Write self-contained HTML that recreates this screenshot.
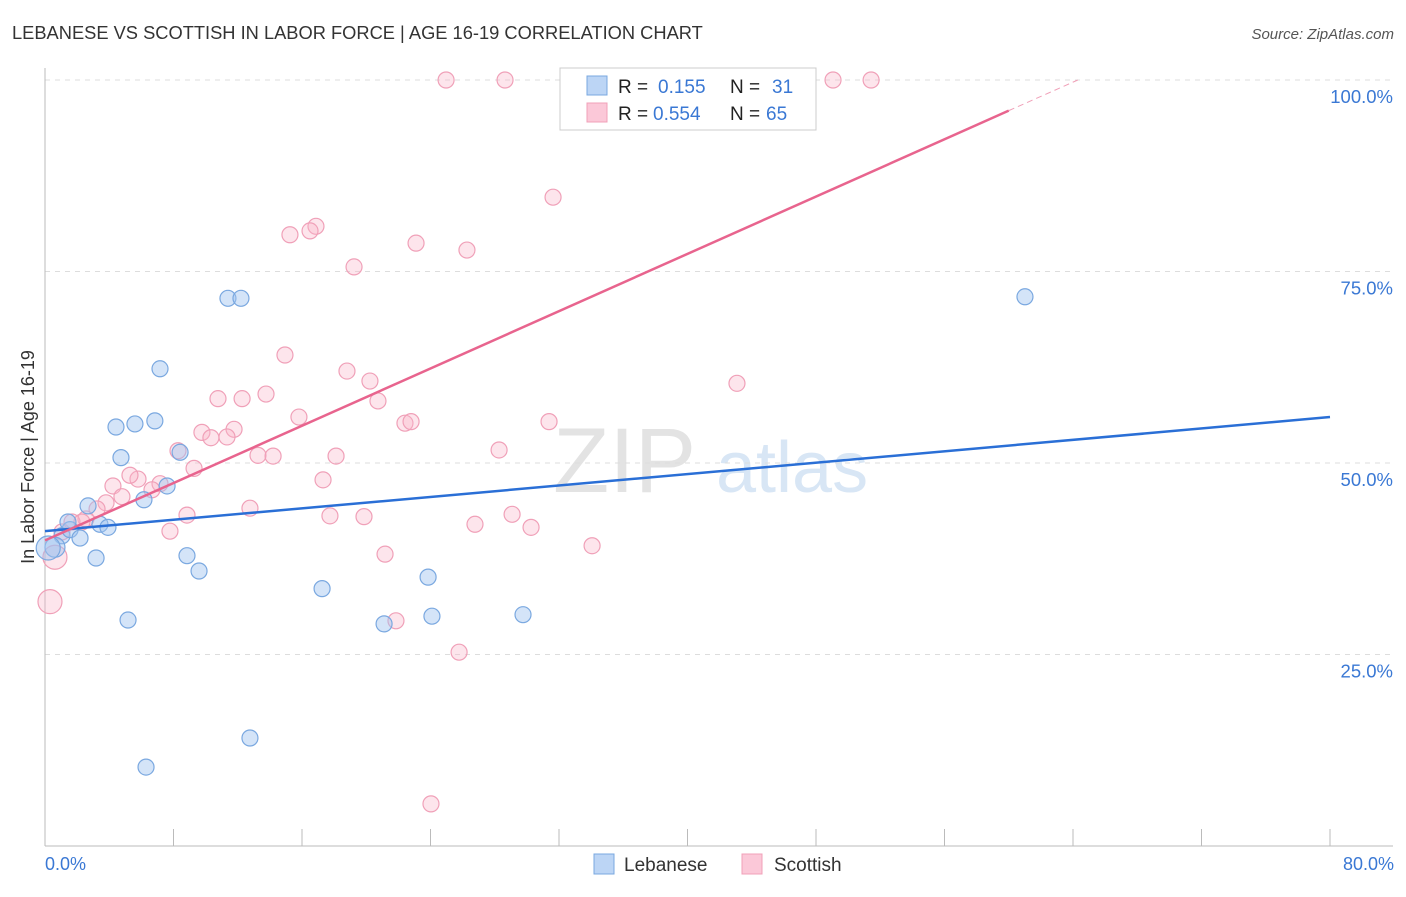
<!DOCTYPE html>
<html><head><meta charset="utf-8"><style>
body{margin:0;background:#fff;font-family:"Liberation Sans",sans-serif;}
svg text{font-family:"Liberation Sans",sans-serif;}
</style></head><body>
<svg width="1406" height="892" xmlns="http://www.w3.org/2000/svg">
<text x="12" y="39" font-size="18.3" fill="#333">LEBANESE VS SCOTTISH IN LABOR FORCE | AGE 16-19 CORRELATION CHART</text>
<text x="1394" y="39" font-size="15" fill="#555" font-style="italic" text-anchor="end">Source: ZipAtlas.com</text>
<text x="553" y="492" font-size="92" fill="#e3e3e3" font-family="Liberation Serif">ZIP</text>
<text x="716" y="492" font-size="72" fill="#d8e6f5">atlas</text>
<g id="grid"></g><g id="axes"></g><g id="pink"></g><g id="blue"></g><g id="lines"></g>
<text transform="translate(34,457) rotate(-90)" font-size="18" fill="#333" text-anchor="middle">In Labor Force | Age 16-19</text>
<text x="45" y="870" font-size="18" fill="#3a78d4">0.0%</text>
<text x="1394" y="870" font-size="18" fill="#3a78d4" text-anchor="end">80.0%</text>
<g>
<rect x="560" y="68" width="256" height="62" fill="#fff" stroke="#ccc"/>
<rect x="587" y="76" width="20" height="19" fill="#bcd5f5" stroke="#7aa8e0"/>
<rect x="587" y="103" width="20" height="19" fill="#fbc8d8" stroke="#f0a0b8"/>
<text x="618" y="93" font-size="19" fill="#222">R =</text>
<text x="658" y="93" font-size="19" fill="#3a78d4">0.155</text>
<text x="730" y="93" font-size="19" fill="#222">N =</text>
<text x="772" y="93" font-size="19" fill="#3a78d4">31</text>
<text x="618" y="120" font-size="19" fill="#222">R =</text>
<text x="653" y="120" font-size="19" fill="#3a78d4">0.554</text>
<text x="730" y="120" font-size="19" fill="#222">N =</text>
<text x="766" y="120" font-size="19" fill="#3a78d4">65</text>
</g>
<g>
<rect x="594" y="854" width="20" height="20" fill="#bcd5f5" stroke="#7aa8e0"/>
<text x="624" y="871" font-size="19" fill="#333">Lebanese</text>
<rect x="742" y="854" width="20" height="20" fill="#fbc8d8" stroke="#f0a0b8"/>
<text x="774" y="871" font-size="19" fill="#333">Scottish</text>
</g>
</svg>
<script>
const yTicks=[25,50,75,100];
const yTickLabels=["25.0%","50.0%","75.0%","100.0%"];
const xTicks=[0,8,16,24,32,40,48,56,64,72,80];
const blueX=[4.42,5.60,6.84,4.73,7.16,8.41,7.60,6.16,8.84,9.59,5.17,11.39,12.20,17.25,21.11,23.85,24.09,29.76,61.01,12.76,6.29,2.68,1.06,1.56,3.42,3.92,0.62,3.18,2.18,0.2,1.43];
const blueY=[54.7,55.1,55.5,50.7,62.3,51.4,47.0,45.2,37.9,35.9,29.5,71.5,71.5,33.6,29.0,35.1,30.0,30.2,71.7,14.1,10.3,44.4,40.5,41.3,42.0,41.6,39.0,37.6,40.2,38.9,42.3];
const blueR=[8,8,8,8,8,8,8,8,8,8,8,8,8,8,8,8,8,8,8,8,8,8,8,8,8,8,10,8,8,12,8];
const pinkX=[24.97,28.64,36.55,38.1,40.6,49.06,51.43,31.63,16.87,16.5,15.25,23.1,26.27,19.24,14.94,18.8,20.23,43.08,13.76,10.77,12.27,20.73,15.81,22.41,22.79,31.38,9.77,11.77,11.33,10.33,28.27,13.26,14.2,18.12,8.28,9.28,5.79,5.29,17.31,7.16,4.23,6.66,4.79,3.80,3.24,12.76,8.84,17.74,19.86,29.08,2.55,1.68,26.77,30.26,7.78,1.06,21.17,34.06,0.62,0.31,21.85,25.78,24.03,2.3];
const pinkY=[100,100,100,100,100,100,100,84.7,80.9,80.3,79.8,78.7,77.8,75.6,64.1,62.0,60.7,60.4,59.0,58.4,58.4,58.1,56.0,55.2,55.4,55.4,54.0,54.4,53.4,53.3,51.7,51.0,50.9,50.9,51.6,49.3,47.9,48.4,47.8,47.3,47.0,46.5,45.6,44.8,44.0,44.1,43.2,43.1,43.0,43.3,42.7,42.3,42.0,41.6,41.1,41.0,38.1,39.2,37.7,31.9,29.4,25.3,5.5,42.3];
const pinkR=pinkX.map((v,i)=>(i==58||i==59)?12:8);
const blueTrend=[0,41.1,80,56.0];
const pinkTrend=[0,39.9,60,96.0,64.3,100];
const X=v=>45+v/80*1285, Y=v=>846-v/100*766;
const NS="http://www.w3.org/2000/svg";
function mk(p,t,a){const e=document.createElementNS(NS,t);for(const k in a)e.setAttribute(k,a[k]);document.getElementById(p).appendChild(e);return e;}
yTicks.forEach((t,i)=>{
 const l=mk('grid','line',{x1:45,x2:1393,y1:Y(t),y2:Y(t),stroke:'#ddd','stroke-dasharray':'5,5'});
 
 
 const tx=mk('grid','text',{x:1393,y:Y(t)+23,'font-size':18.5,fill:'#3a78d4','text-anchor':'end'});
 tx.textContent=yTickLabels[i];
 
 
});
const ax=mk('axes','line',{x1:45,x2:45,y1:68,y2:846,stroke:'#bbb'});


const bx=mk('axes','line',{x1:45,x2:1393,y1:846,y2:846,stroke:'#bbb'});


xTicks.forEach(t=>{const e=mk('axes','line',{x1:X(t),x2:X(t),y1:829,y2:846,stroke:'#bbb'});
 
 });
pinkX.forEach((v,i)=>{const c=mk('pink','circle',{cx:X(v),cy:Y(pinkY[i]),r:pinkR[i],fill:'rgba(248,180,200,0.35)',stroke:'#f0a0b8','stroke-width':1.2});
 
 });
blueX.forEach((v,i)=>{const c=mk('blue','circle',{cx:X(v),cy:Y(blueY[i]),r:blueR[i],fill:'rgba(160,196,240,0.45)',stroke:'#7aa8e0','stroke-width':1.2});
 
 });
const bl=mk('lines','line',{x1:X(blueTrend[0]),y1:Y(blueTrend[1]),x2:X(blueTrend[2]),y2:Y(blueTrend[3]),stroke:'#2a6fd6','stroke-width':2.5});


const pl=mk('lines','line',{x1:X(pinkTrend[0]),y1:Y(pinkTrend[1]),x2:X(pinkTrend[2]),y2:Y(pinkTrend[3]),stroke:'#e8648e','stroke-width':2.5});


const pd=mk('lines','line',{x1:X(pinkTrend[2]),y1:Y(pinkTrend[3]),x2:X(pinkTrend[4]),y2:Y(pinkTrend[5]),stroke:'#f0a0b8','stroke-width':1,'stroke-dasharray':'6,4'});


</script>
</body></html>
